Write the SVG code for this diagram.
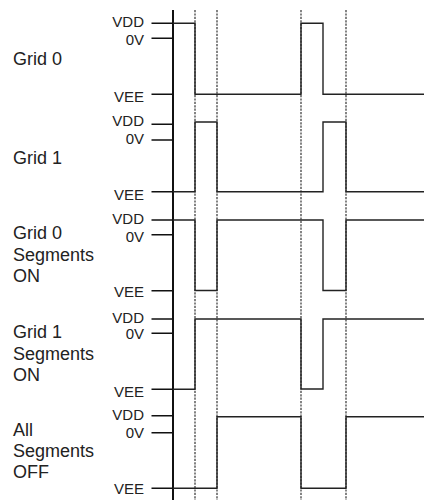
<svg xmlns="http://www.w3.org/2000/svg" width="424" height="500" viewBox="0 0 424 500">
<style>
.lbl{font-family:"Liberation Sans",Arial,sans-serif;font-size:18px;fill:#222}
.v{font-family:"Liberation Sans",Arial,sans-serif;font-size:15px;fill:#222;text-anchor:end}
.tick{stroke:#111;stroke-width:1.6;fill:none}
.axis{stroke:#111;stroke-width:2;fill:none}
.dash{stroke:#333;stroke-width:1.2;stroke-dasharray:2.2 1.2;fill:none}
.wave{stroke:#222;stroke-width:1.4;fill:none;stroke-linejoin:miter}
</style>
<rect width="424" height="500" fill="#fff"/>
<g id="guides">
<line class="dash" x1="195" y1="10" x2="195" y2="500"/>
<line class="dash" x1="217" y1="10" x2="217" y2="500"/>
<line class="dash" x1="301" y1="10" x2="301" y2="500"/>
<line class="dash" x1="346" y1="10" x2="346" y2="500"/>
</g>
<g id="axis">
<line class="axis" x1="173" y1="10" x2="173" y2="500"/>
</g>
<g id="grid0">
<text class="lbl" x="13" y="65">Grid 0</text>
<text class="v" x="144" y="27">VDD</text>
<text class="v" x="144" y="44.5">0V</text>
<text class="v" x="144" y="101.5">VEE</text>
<path class="tick" d="M151.5 23.3H173M151.5 38.3H173M151.5 94.3H173"/>
<path class="wave" d="M173 23.3H195V94.3H301V23.3H323V94.3H424"/>
</g>
<g id="grid1">
<text class="lbl" x="13" y="163.5">Grid 1</text>
<text class="v" x="144" y="126">VDD</text>
<text class="v" x="144" y="143.5">0V</text>
<text class="v" x="144" y="199.5">VEE</text>
<path class="tick" d="M151.5 124.3H173M151.5 140H173M151.5 191.7H173"/>
<path class="wave" d="M173 191.7H195V122H217V191.7H323V122H346V191.7H424"/>
</g>
<g id="grid0-seg-on">
<text class="lbl" x="13" y="239.3">Grid 0</text>
<text class="lbl" x="13" y="261">Segments</text>
<text class="lbl" x="13" y="281.7">ON</text>
<text class="v" x="144" y="223.5">VDD</text>
<text class="v" x="144" y="241.5">0V</text>
<text class="v" x="144" y="297">VEE</text>
<path class="tick" d="M151.5 220H173M151.5 234.7H173M151.5 290.7H173"/>
<path class="wave" d="M173 220H195V290.5H217V220H323V290.5H346V220H424"/>
</g>
<g id="grid1-seg-on">
<text class="lbl" x="13" y="337.7">Grid 1</text>
<text class="lbl" x="13" y="360">Segments</text>
<text class="lbl" x="13" y="380.7">ON</text>
<text class="v" x="144" y="322.5">VDD</text>
<text class="v" x="144" y="339">0V</text>
<text class="v" x="144" y="396.5">VEE</text>
<path class="tick" d="M151.5 319H173M151.5 333.3H173M151.5 389.3H173"/>
<path class="wave" d="M173 389.3H195V319H301V389H323V319H424"/>
</g>
<g id="all-seg-off">
<text class="lbl" x="13" y="435.7">All</text>
<text class="lbl" x="13" y="457.3">Segments</text>
<text class="lbl" x="13" y="478.3">OFF</text>
<text class="v" x="144" y="420">VDD</text>
<text class="v" x="144" y="437.5">0V</text>
<text class="v" x="144" y="494">VEE</text>
<path class="tick" d="M151.5 415.7H173M151.5 432.7H173M151.5 488.3H173"/>
<path class="wave" d="M173 488.3H217V416.7H301V488.3H346V416.7H424"/>
</g>
</svg>
